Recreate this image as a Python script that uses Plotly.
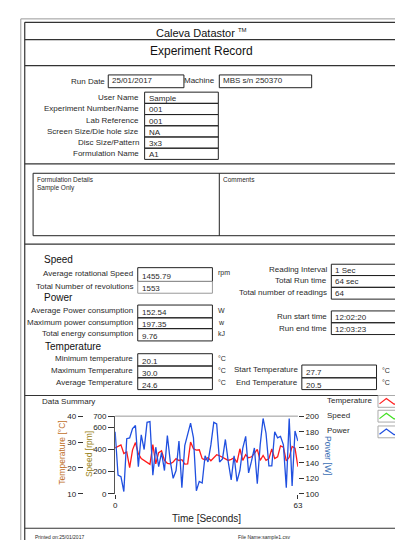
import plotly.graph_objects as go

W, H = 403, 540
FONT = "Liberation Sans"

# ---------------- data ----------------
time_s = list(range(64))
power_w = [180, 124, 122, 103, 171, 172, 184, 188, 135, 176,
           157, 192, 193, 124, 160, 135, 153, 130, 175, 142,
           120, 130, 168, 108, 162, 178, 191, 172, 104, 116,
           114, 149, 141, 163, 192, 190, 141, 145, 170, 141,
           118, 149, 116, 130, 159, 174, 127, 142, 159, 113,
           163, 197, 178, 136, 136, 180, 172, 174, 163, 108,
           197, 110, 181, 168]
temp_c = [27.7, 28.2, 28.9, 25.6, 26.2, 20.1, 27.0, 29.8, 25.5, 23.6,
          22.8, 21.9, 21.4, 29.0, 21.6, 25.9, 26.6, 22.9, 21.8, 21.6,
          22.3, 23.6, 22.9, 23.2, 21.5, 21.6, 30.0, 27.4, 26.9, 27.0,
          23.6, 23.1, 24.0, 22.8, 23.9, 25.1, 24.7, 24.0, 23.4, 22.9,
          23.3, 23.9, 22.1, 27.4, 22.9, 25.1, 23.9, 24.3, 25.6, 27.2,
          22.9, 24.8, 22.9, 23.6, 27.3, 23.6, 24.3, 28.5, 28.0, 22.7,
          24.1, 28.3, 27.6, 20.5]

temp_ticks = [10, 20, 30, 40]
speed_ticks = [0, 200, 400, 600, 700]
power_ticks = [100, 120, 140, 160, 180, 200]
time_ticks = [0, 63]

run_info = [("Run Date", "25/01/2017"), ("Machine", "MBS s/n 250370")]
id_labels = ["User Name", "Experiment Number/Name", "Lab Reference",
             "Screen Size/Die hole size", "Disc Size/Pattern", "Formulation Name"]
id_values = ["Sample", "001", "001", "NA", "3x3", "A1"]

speed_labels = ["Average rotational Speed", "Total Number of revolutions"]
speed_values = ["1455.79", "1553"]
power_labels = ["Average Power consumption", "Maximum power consumption", "Total energy consumption"]
power_values = ["152.54", "197.35", "9.76"]
power_units = ["W", "w", "kJ"]
temp_labels = ["Minimum temperature", "Maximum Temperature", "Average Temperature"]
temp_values = ["20.1", "30.0", "24.6"]
temp_se_labels = ["Start Temperature", "End Temperature"]
temp_se_values = ["27.7", "20.5"]
read_labels = ["Reading Interval", "Total Run time", "Total number of readings"]
read_values = ["1 Sec", "64 sec", "64"]
time_labels = ["Run start time", "Run end time"]
time_values = ["12:02:20", "12:03:23"]

legend_names = ["Temperature", "Speed", "Power"]
legend_colors = ["#ff2020", "#40e020", "#2050e0"]

fig = go.Figure()

def px(x):
    return x / W

def py(y):
    return 1 - y / H

def text(x, y, s, size=8, anchor="left", color="#2a2a2a", angle=0):
    fig.add_annotation(x=px(x), y=py(y), xref="paper", yref="paper", text=s,
                       showarrow=False, xanchor=anchor, yanchor="middle",
                       textangle=angle, font=dict(size=size, family=FONT, color=color))

def rect(x0, y0, x1, y1, color="#222", width=1):
    fig.add_shape(type="rect", xref="paper", yref="paper", x0=px(x0), x1=px(x1),
                  y0=py(y1), y1=py(y0), line=dict(color=color, width=width),
                  fillcolor="rgba(0,0,0,0)")

def line(x0, y0, x1, y1, color="#333", width=1):
    fig.add_shape(type="line", xref="paper", yref="paper", x0=px(x0), x1=px(x1),
                  y0=py(y0), y1=py(y1), line=dict(color=color, width=width))

# ---------------- frame ----------------
line(11, 7, 403, 7, "#999", 1)
line(11, 7, 11, 540, "#999", 1)
line(15, 10.5, 403, 10.5, "#333", 1.2)
line(15, 10.5, 15, 540, "#333", 1.2)
line(15, 28, 403, 28, "#333", 1.2)
line(15, 54.5, 403, 54.5, "#333", 1.2)
line(15, 154.5, 403, 154.5, "#333", 1.2)
line(15, 236, 403, 236, "#333", 1.2)
line(15, 390, 403, 390, "#333", 1.2)
line(15, 525, 403, 525, "#333", 1.2)

text(195, 21, "Caleva Datastor <sup><span style='font-size:6px'>TM</span></sup>",
     size=11, anchor="center", color="#111")
text(195, 40, "Experiment Record", size=12, anchor="center", color="#111")

# ---------------- run info ----------------
text(99, 71, run_info[0][0], size=8, anchor="right")
rect(100, 64, 177, 77)
text(102, 70, run_info[0][1], size=8)
text(211, 70, run_info[1][0], size=8, anchor="right")
rect(213, 64, 307, 77)
text(215, 70, run_info[1][1], size=8)

row_top = 81.5
row_h = 11.4
for i, (lab, val) in enumerate(zip(id_labels, id_values)):
    y0 = row_top + i * row_h
    rect(137, y0, 212, y0 + row_h)
    text(133, y0 + row_h / 2, lab, size=8, anchor="right")
    text(139, y0 + row_h / 2 + 1, val, size=8)

# ---------------- formulation / comments ----------------
rect(23.5, 164, 402, 227.5)
line(213, 164, 213, 227.5, "#222", 1)
text(25, 170, "Formulation Details", size=6.5)
text(25, 179, "Sample Only", size=6.5)
text(215, 170, "Comments", size=6.5)

# ---------------- speed ----------------
text(33, 252, "Speed", size=10, color="#111")
box_x0, box_x1 = 130, 206
speed_rows = [(260, 274), (274, 286)]
for i, (lab, val) in enumerate(zip(speed_labels, speed_values)):
    y0, y1 = speed_rows[i]
    rect(box_x0, y0, box_x1, y1, "#222" if i == 0 else "#999")
    text(127, (y0 + y1) / 2 - 1, lab, size=8, anchor="right")
    text(132, (y0 + y1) / 2 + 1.5, val, size=8)
text(210, 265, "rpm", size=7)

# ---------------- power ----------------
text(33, 290, "Power", size=10, color="#111")
power_rows = [(298, 311), (311, 322), (322, 334.5)]
for i, (lab, val) in enumerate(zip(power_labels, power_values)):
    y0, y1 = power_rows[i]
    rect(box_x0, y0, box_x1, y1)
    text(127, (y0 + y1) / 2 - 1, lab, size=8, anchor="right")
    text(132, (y0 + y1) / 2 + 1.5, val, size=8)
    text(210, (y0 + y1) / 2 - 1, power_units[i], size=7)

# ---------------- temperature ----------------
text(34, 340, "Temperature", size=10, color="#111")
temp_rows = [(347.5, 360), (360, 372), (372, 384)]
for i, (lab, val) in enumerate(zip(temp_labels, temp_values)):
    y0, y1 = temp_rows[i]
    rect(box_x0, y0, box_x1, y1)
    text(127, (y0 + y1) / 2 - 1, lab, size=8, anchor="right")
    text(132, (y0 + y1) / 2 + 1.5, val, size=8)
    text(210, (y0 + y1) / 2 - 1.5, "°C", size=7)
se_rows = [(359, 372), (372, 384)]
for i, (lab, val) in enumerate(zip(temp_se_labels, temp_se_values)):
    y0, y1 = se_rows[i]
    rect(297, y0, 373, y1)
    text(295, (y0 + y1) / 2 - 1.5, lab, size=8, anchor="right")
    text(299, (y0 + y1) / 2 + 1.5, val, size=8)
    text(377, (y0 + y1) / 2 - 1, "°C", size=7)

# ---------------- readings / times ----------------
read_rows = [(256.5, 268), (268, 280), (280, 292)]
for i, (lab, val) in enumerate(zip(read_labels, read_values)):
    y0, y1 = read_rows[i]
    rect(327, y0, 403, y1)
    text(325, (y0 + y1) / 2 - 0.5, lab, size=8, anchor="right")
    text(329, (y0 + y1) / 2 + 0.5, val, size=8)
time_rows = [(304, 316), (316, 328)]
for i, (lab, val) in enumerate(zip(time_labels, time_values)):
    y0, y1 = time_rows[i]
    rect(327, y0, 403, y1)
    text(325, (y0 + y1) / 2 - 0.5, lab, size=8, anchor="right")
    text(329, (y0 + y1) / 2 + 0.5, val, size=8)

# ---------------- chart ----------------
text(31, 396, "Data Summary", size=8)
leg_y = [396, 411, 427]
for i, (name, col) in enumerate(zip(legend_names, legend_colors)):
    yc = leg_y[i]
    text(321, yc - 1, name, size=8)
    rect(374.5, yc - 6, 397, yc + 6, "#aaa", 1)
    fig.add_shape(type="path", xref="paper", yref="paper",
                  path="M {} {} L {} {} L {} {} L {} {}".format(
                      px(376), py(yc + 2.5), px(383), py(yc - 3),
                      px(391), py(yc + 3), px(396.5), py(yc)),
                  line=dict(color=col, width=1.2))

fig.add_trace(go.Scatter(x=time_s, y=power_w, yaxis="y3", mode="lines",
                         line=dict(color="#2050e0", width=1.3), name="Power"))
fig.add_trace(go.Scatter(x=time_s, y=temp_c, yaxis="y", mode="lines",
                         line=dict(color="#ff1a1a", width=1.3), name="Temperature"))
# empty speed series keeps the speed axis active
fig.add_trace(go.Scatter(x=[], y=[], yaxis="y2", mode="lines",
                         line=dict(color="#40e020"), name="Speed"))

plot_x0, plot_x1 = 107, 293
plot_y0, plot_y1 = 411, 490
dom_x = [px(plot_x0), px(plot_x1)]
dom_y = [py(plot_y1), py(plot_y0)]
tickfont = dict(size=8, family=FONT, color="#222")

line(plot_x0, plot_y0, plot_x1, plot_y0, "#999", 1)

fig.update_layout(
    width=W, height=H, margin=dict(l=0, r=0, t=0, b=0),
    paper_bgcolor="white", plot_bgcolor="white", showlegend=False,
    xaxis=dict(domain=dom_x, range=[0, 63], tickvals=time_ticks, ticks="outside",
               ticklen=4, tickcolor="#333", showline=False, showgrid=False,
               zeroline=False, tickfont=tickfont),
    yaxis=dict(domain=dom_y, range=[10, 40], tickvals=temp_ticks, ticks="outside",
               ticklen=5, tickcolor="#333", anchor="free", position=px(74),
               showline=False, showgrid=False, zeroline=False, tickfont=tickfont),
    yaxis2=dict(domain=dom_y, range=[0, 700], tickvals=speed_ticks, ticks="outside",
                ticklen=6, tickcolor="#333", overlaying="y", anchor="x", side="left",
                showline=True, linecolor="#555", linewidth=1,
                showgrid=False, zeroline=False, tickfont=tickfont),
    yaxis3=dict(domain=dom_y, range=[100, 200], tickvals=power_ticks, ticks="outside",
                ticklen=5, tickcolor="#333", overlaying="y", anchor="x", side="right",
                showline=False, showgrid=False, zeroline=False, tickfont=tickfont),
)

text(52, 448, "Temperature [°C]", size=8.5, anchor="center", color="#c0702a", angle=-90)
text(80, 450, "Speed [rpm]", size=8.5, anchor="center", color="#9a8420", angle=-90)
text(323, 451, "Power [W]", size=8.5, anchor="center", color="#3b6fb5", angle=90)
text(200, 515.5, "Time [Seconds]", size=10, anchor="center", color="#222")

text(23, 533.5, "Printed on:25/01/2017", size=5)
text(230, 533.5, "File Name:sample1.csv", size=5)

fig.write_html("out.html")
